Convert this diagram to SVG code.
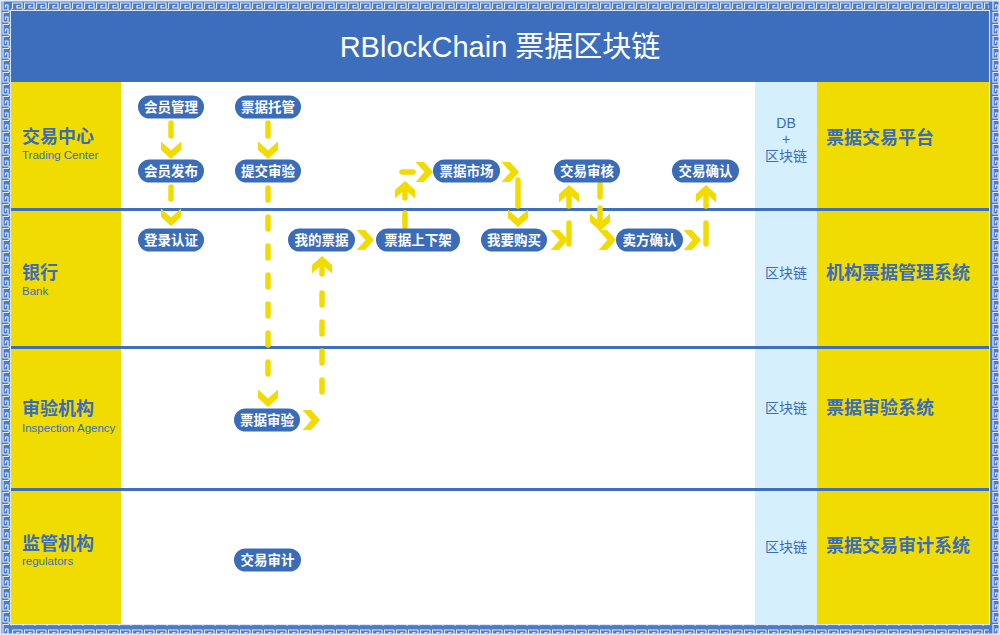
<svg xmlns="http://www.w3.org/2000/svg" xmlns:xlink="http://www.w3.org/1999/xlink" width="1000" height="635" viewBox="0 0 1000 635">
<style>
.cjk{font-family:"Liberation Sans","Noto Sans CJK SC",sans-serif;}
.node rect{fill:#3a6cba;}
.node text{fill:#ffffff;font-size:13.5px;font-weight:bold;text-anchor:middle;font-family:"Liberation Sans","Noto Sans CJK SC",sans-serif;}
.lane-title{fill:#3a6cba;font-size:18px;font-weight:bold;font-family:"Liberation Sans","Noto Sans CJK SC",sans-serif;}
.lane-sub{fill:#3a6cba;font-size:11.5px;font-family:"Liberation Sans","Noto Sans CJK SC",sans-serif;}
.store{fill:#3a6cba;font-size:14px;text-anchor:middle;font-family:"Liberation Sans","Noto Sans CJK SC",sans-serif;}
.sys{fill:#3a6cba;font-size:18px;font-weight:bold;font-family:"Liberation Sans","Noto Sans CJK SC",sans-serif;}
.dash{fill:none;stroke:#f2dc00;stroke-width:5.5;stroke-linecap:round;stroke-dasharray:12 17;}
.solid{fill:none;stroke:#f2dc00;stroke-width:5.5;stroke-linecap:round;}
.chev{fill:#f2dc00;}
.lane-line{fill:#3e6fbc;}
</style>
<defs>
<polygon id="chev" points="-10,-8.5 0,0.5 10,-8.5 10,0 0,9 -10,0"/>
<pattern id="keyH" x="0" y="0" width="12" height="11" patternUnits="userSpaceOnUse">
<rect width="12" height="11" fill="#4d7bc6"/>
<path d="M0.5,9 V3 H10 V8 H5 V5.5 H7.5" fill="none" stroke="#dfe8f6" stroke-width="1.2"/>
<path d="M10,9 H12" fill="none" stroke="#dfe8f6" stroke-width="1.2"/>
</pattern>
<pattern id="keyV" x="0" y="0" width="11" height="12" patternUnits="userSpaceOnUse">
<rect width="11" height="12" fill="#4d7bc6"/>
<path d="M9,0.5 H3 V10 H8 V5 H5.5 V7.5" fill="none" stroke="#dfe8f6" stroke-width="1.2"/>
<path d="M9,10 V12" fill="none" stroke="#dfe8f6" stroke-width="1.2"/>
</pattern>
</defs>

<g id="border">
<rect x="0" y="0" width="1000" height="11" fill="url(#keyH)"/>
<rect x="0" y="624" width="1000" height="11" fill="url(#keyH)"/>
<rect x="0" y="0" width="11" height="635" fill="url(#keyV)"/>
<rect x="989" y="0" width="11" height="635" fill="url(#keyV)"/>
<rect x="0.75" y="0.75" width="998.5" height="633.5" fill="none" stroke="#dfe8f6" stroke-width="1.5"/>
<rect x="10.5" y="10.5" width="979" height="614" fill="none" stroke="#dfe8f6" stroke-width="1.2"/>
</g>

<g id="columns">
<rect x="11" y="82" width="978" height="542" fill="#ffffff"/>
<rect x="11" y="82" width="110" height="542" fill="#f0dc00"/>
<rect x="755" y="82" width="62" height="542" fill="#d5f0fc"/>
<rect x="817" y="82" width="172" height="542" fill="#f0dc00"/>
</g>

<g id="header">
<rect x="11" y="11" width="978" height="71" fill="#3d6ebd"/>
<text x="500" y="57" class="cjk" font-size="29" fill="#ffffff" text-anchor="middle">RBlockChain 票据区块链</text>
</g>

<g id="lanes">
<rect class="lane-line" x="11" y="80" width="978" height="2"/>
<rect class="lane-line" x="11" y="208" width="978" height="3"/>
<rect class="lane-line" x="11" y="346" width="978" height="3"/>
<rect class="lane-line" x="11" y="488" width="978" height="3"/>
</g>

<g id="lane1-label"><text class="lane-title" x="22" y="143">交易中心</text><text class="lane-sub" x="22" y="159">Trading Center</text></g>
<g id="lane2-label"><text class="lane-title" x="22" y="279">银行</text><text class="lane-sub" x="22" y="295">Bank</text></g>
<g id="lane3-label"><text class="lane-title" x="22" y="415">审验机构</text><text class="lane-sub" x="22" y="432">Inspection Agency</text></g>
<g id="lane4-label"><text class="lane-title" x="22" y="550">监管机构</text><text class="lane-sub" x="22" y="565">regulators</text></g>

<g id="store1"><text class="store" x="786" y="128">DB</text><text class="store" x="786" y="144">+</text><text class="store" x="786" y="161">区块链</text></g>
<g id="store2"><text class="store" x="786" y="278">区块链</text></g>
<g id="store3"><text class="store" x="786" y="413">区块链</text></g>
<g id="store4"><text class="store" x="786" y="552">区块链</text></g>

<g id="sys1"><text class="sys" x="826" y="144">票据交易平台</text></g>
<g id="sys2"><text class="sys" x="826" y="279">机构票据管理系统</text></g>
<g id="sys3"><text class="sys" x="826" y="414">票据审验系统</text></g>
<g id="sys4"><text class="sys" x="826" y="552">票据交易审计系统</text></g>

<g id="connectors">
<path class="solid" d="M171,123 V136"/>
<use href="#chev" class="chev" transform="translate(171,150)"/>
<path class="solid" d="M268,123 V136"/>
<use href="#chev" class="chev" transform="translate(268,150)"/>
<path class="solid" d="M171,187 V199"/>
<use href="#chev" class="chev" transform="translate(171,217)"/>
<path class="dash" d="M268,188 V385"/>
<use href="#chev" class="chev" transform="translate(268,398)"/>
<use href="#chev" class="chev" transform="translate(311,420) rotate(-90)"/>
<path class="dash" d="M322,392 V282"/>
<path class="solid" d="M322,266 V274"/>
<use href="#chev" class="chev" transform="translate(322,265) rotate(180)"/>
<use href="#chev" class="chev" transform="translate(365,240) rotate(-90)"/>
<path class="solid" d="M405,227 V213"/>
<path class="solid" d="M405,192 V198"/>
<use href="#chev" class="chev" transform="translate(405,190) rotate(180)"/>
<path class="solid" d="M402,172 H413"/>
<use href="#chev" class="chev" transform="translate(424,172) rotate(-90)"/>
<use href="#chev" class="chev" transform="translate(510,172) rotate(-90)"/>
<path class="solid" d="M518,180 V206"/>
<use href="#chev" class="chev" transform="translate(518,218)"/>
<use href="#chev" class="chev" transform="translate(559,240) rotate(-90)"/>
<path class="solid" d="M569,244 V223"/>
<path class="solid" d="M569,196 V206"/>
<use href="#chev" class="chev" transform="translate(569,194) rotate(180)"/>
<path class="solid" d="M600,184 V197"/>
<path class="solid" d="M600,208 V220"/>
<use href="#chev" class="chev" transform="translate(600,222)"/>
<use href="#chev" class="chev" transform="translate(607,240) rotate(-90)"/>
<use href="#chev" class="chev" transform="translate(692,240) rotate(-90)"/>
<path class="solid" d="M706,244 V223"/>
<path class="solid" d="M706,196 V206"/>
<use href="#chev" class="chev" transform="translate(706,194) rotate(180)"/>
</g>

<g id="n-huiyuanguanli" class="node"><rect x="138" y="95.5" width="66" height="23" rx="11.5"/><text x="171" y="112">会员管理</text></g>
<g id="n-piaojutuoguan" class="node"><rect x="235" y="95.5" width="66" height="23" rx="11.5"/><text x="268" y="112">票据托管</text></g>
<g id="n-huiyuanfabu" class="node"><rect x="138" y="159.5" width="66" height="23" rx="11.5"/><text x="171" y="176">会员发布</text></g>
<g id="n-tijiaoshenyan" class="node"><rect x="235" y="159.5" width="66" height="23" rx="11.5"/><text x="268" y="176">提交审验</text></g>
<g id="n-piaojushichang" class="node"><rect x="433" y="159.5" width="67" height="23" rx="11.5"/><text x="466.5" y="176">票据市场</text></g>
<g id="n-jiaoyishenhe" class="node"><rect x="554" y="159.5" width="66" height="23" rx="11.5"/><text x="587" y="176">交易审核</text></g>
<g id="n-jiaoyiqueren" class="node"><rect x="672" y="159.5" width="67" height="23" rx="11.5"/><text x="705.5" y="176">交易确认</text></g>
<g id="n-dengluzheng" class="node"><rect x="138" y="228.5" width="66" height="23" rx="11.5"/><text x="171" y="245">登录认证</text></g>
<g id="n-wodepiaoju" class="node"><rect x="288" y="228.5" width="67" height="23" rx="11.5"/><text x="321.5" y="245">我的票据</text></g>
<g id="n-shangxiajia" class="node"><rect x="376" y="228.5" width="84" height="23" rx="11.5"/><text x="418" y="245">票据上下架</text></g>
<g id="n-woyaogoumai" class="node"><rect x="481" y="228.5" width="66" height="23" rx="11.5"/><text x="514" y="245">我要购买</text></g>
<g id="n-maifangqueren" class="node"><rect x="616" y="228.5" width="67" height="23" rx="11.5"/><text x="649.5" y="245">卖方确认</text></g>
<g id="n-piaojushenyan" class="node"><rect x="234" y="408.5" width="66" height="23" rx="11.5"/><text x="267" y="425">票据审验</text></g>
<g id="n-jiaoyishenji" class="node"><rect x="234" y="548.5" width="67" height="23" rx="11.5"/><text x="267.5" y="565">交易审计</text></g>
</svg>
